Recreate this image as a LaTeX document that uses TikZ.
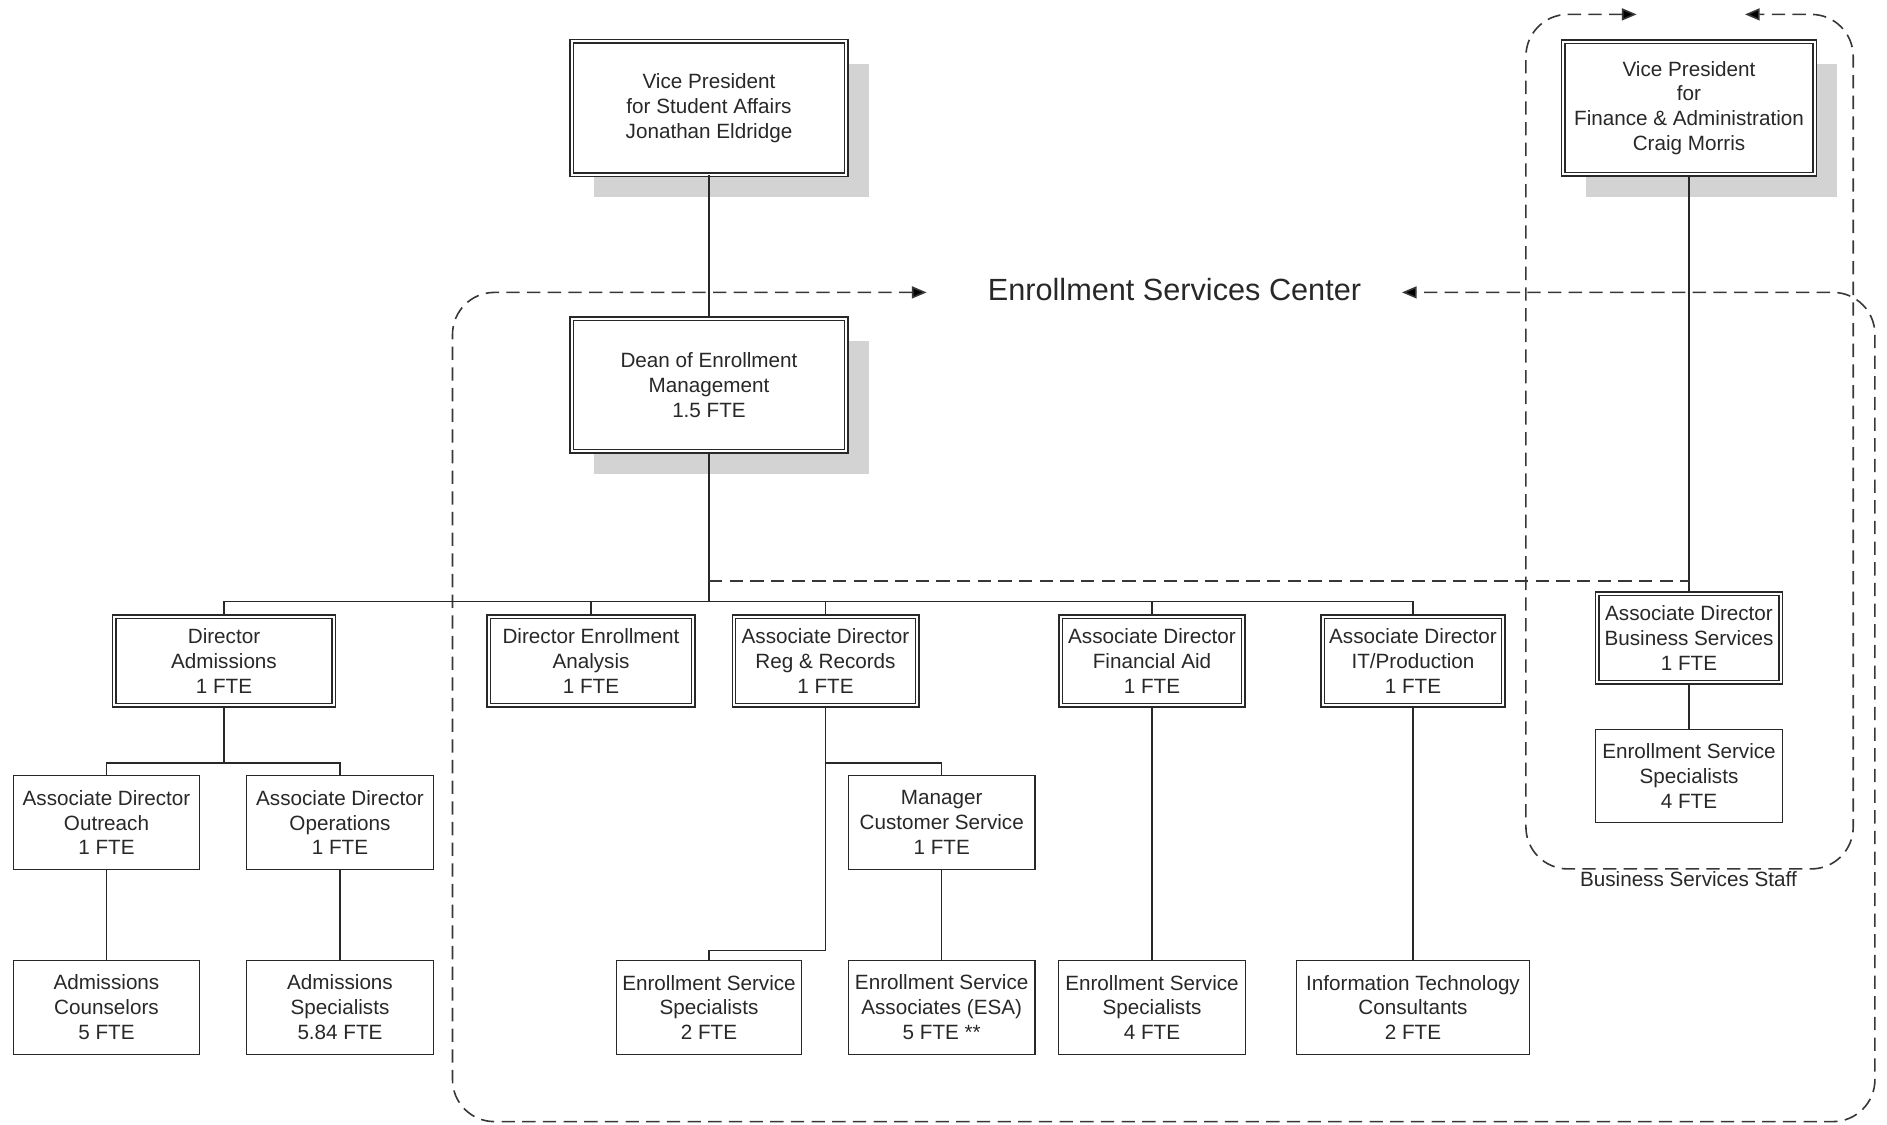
\documentclass[tikz,border=0pt]{standalone}
\usepackage{fontspec}
\setmainfont{Liberation Sans}
\usetikzlibrary{shadows,arrows.meta}

\definecolor{chartink}{RGB}{40,40,40}
\definecolor{shadowgray}{RGB}{211,211,211}
\definecolor{regiongray}{RGB}{55,55,55}

\tikzset{every picture/.style={line width=0.75pt}}
\tikzset{
  staffbox/.style={draw=chartink, line width=0.8pt, fill=white, align=center, inner sep=0pt, text=chartink, font=\fontsize{15.5}{18.6}\selectfont, minimum width=139.9pt, minimum height=70.1pt},
  dirbox/.style={staffbox, double=white, double distance=1.8pt, minimum height=66.4pt},
  headbox/.style={dirbox, drop shadow={shadow xshift=17pt, shadow yshift=-17pt, fill=shadowgray, opacity=1}},
  region/.style={draw=regiongray, fill=none, line width=1.2pt, dash pattern=on 10pt off 5.5pt, rounded corners=31.5pt, >={Triangle[length=11pt,width=9pt,fill=black]}, <->},
  link/.style={draw=chartink, line width=0.9pt},
}

\begin{document}
\begin{tikzpicture}[x=0.75pt,y=0.75pt,yscale=-1,xscale=1]
\path[use as bounding box] (0,0) rectangle (1887,1124);

%Shape: Dashed Regions
\draw[region] (926.6,292.4) -- (452.5,292.4) -- (452.5,1121.6) -- (1874.9,1121.6) -- (1874.9,292.4) -- (1402,292.4);
\draw[region] (1636.6,14.4) -- (1525.9,14.4) -- (1525.9,868.9) -- (1853.2,868.9) -- (1853.2,14.4) -- (1745,14.4);

%Shape: Head Boxes
\node[headbox, minimum width=205.9pt, minimum height=100.1pt] (vpsa) at (709,108) {Vice President\\for Student Affairs\\Jonathan Eldridge};
\node[headbox, minimum width=188.6pt, minimum height=99.4pt] (vpfa) at (1689,108) {Vice President\\for\\Finance \& Administration\\Craig Morris};
\node[headbox, minimum width=205.9pt, minimum height=99.4pt] (dean) at (709,385) {Dean of Enrollment\\Management\\1.5 FTE};

%Shape: Director Boxes
\node[dirbox, minimum width=164.6pt] (diradm) at (224,661) {Director\\Admissions\\1 FTE};
\node[dirbox, minimum width=153.4pt] (direa) at (591,661) {Director Enrollment\\Analysis\\1 FTE};
\node[dirbox, minimum width=137.6pt] (adrr) at (825.5,661) {Associate Director\\Reg \& Records\\1 FTE};
\node[dirbox, minimum width=136.9pt] (adfa) at (1152,661) {Associate Director\\Financial Aid\\1 FTE};
\node[dirbox, minimum width=135.4pt] (adit) at (1413,661) {Associate Director\\IT/Production\\1 FTE};
\node[dirbox, minimum width=137.6pt] (adbs) at (1689,638) {Associate Director\\Business Services\\1 FTE};

%Shape: Staff Boxes
\node[staffbox] (ado) at (106.5,822.6) {Associate Director\\Outreach\\1 FTE};
\node[staffbox] (adop) at (340,822.6) {Associate Director\\Operations\\1 FTE};
\node[staffbox] (mcs) at (941.7,822.6) {Manager\\Customer Service\\1 FTE};
\node[staffbox] (essbs) at (1689,776) {Enrollment Service\\Specialists\\4 FTE};
\node[staffbox] (admcoun) at (106.5,1007.3) {Admissions\\Counselors\\5 FTE};
\node[staffbox] (admspec) at (340,1007.3) {Admissions\\Specialists\\5.84 FTE};
\node[staffbox, minimum width=138.4pt] (essrr) at (709,1007.3) {Enrollment Service\\Specialists\\2 FTE};
\node[staffbox] (esa) at (941.7,1007.3) {Enrollment Service\\Associates (ESA)\\5 FTE **};
\node[staffbox] (essfa) at (1152,1007.3) {Enrollment Service\\Specialists\\4 FTE};
\node[staffbox, minimum width=174.4pt] (itc) at (1413,1007.3) {Information Technology\\Consultants\\2 FTE};

% Text Node
\node[font=\fontsize{23}{27}\selectfont, text=chartink] (esctitle) at (1174.5,290) {Enrollment Services Center};
% Text Node
\node[font=\fontsize{15.5}{18.6}\selectfont, text=chartink, anchor=north, inner sep=0pt] (bslabel) at (1688.4,871) {Business Services Staff};

%Straight Lines
\coordinate (bus) at (709,601.7);
\coordinate (bsjoin) at (1689,581.2);
\coordinate (admbus) at (224,763);
\coordinate (rrbus) at (825.5,763);
\coordinate (rrbend) at (825.5,950.7);

\draw[link] (vpsa) -- (dean);
\draw[link, line width=1.6pt] (dean.south) -- (bus);
\draw[link] (diradm.north) |- (bus) -| (adit.north);
\foreach \n in {direa, adrr, adfa} \draw[link] (\n.north) -- (\n.north |- bus);
\draw[link] (vpfa) -- (adbs);
\draw[draw=regiongray, line width=1.2pt, dash pattern=on 10pt off 5.5pt] (dean.south |- bsjoin) -- (bsjoin);
\draw[link] (diradm.south) -- (admbus);
\draw[link] (ado.north) |- (admbus) -| (adop.north);
\draw[link] (adrr.south) -- (rrbend) -| (essrr.north);
\draw[link] (rrbus) -| (mcs.north);
\foreach \a/\b in {ado/admcoun, adop/admspec, mcs/esa, adfa/essfa, adit/itc, adbs/essbs} \draw[link] (\a) -- (\b);

\end{tikzpicture}
\end{document}
